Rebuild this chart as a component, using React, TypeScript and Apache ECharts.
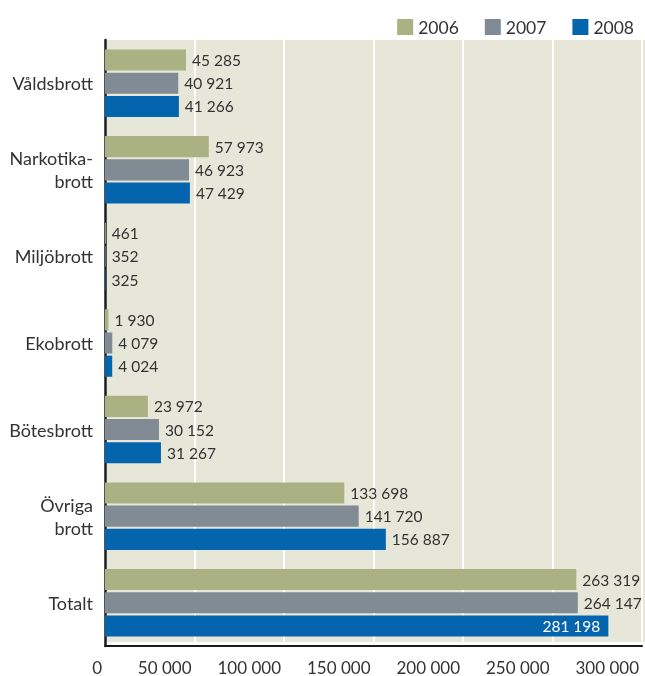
import React, { useEffect, useRef } from "react";
import * as echarts from "echarts";

const categories = ["Våldsbrott", "Narkotika-\nbrott", "Miljöbrott", "Ekobrott", "Bötesbrott", "Övriga\nbrott", "Totalt"];
const years = ["2006", "2007", "2008"];
const v2006 = [45285, 57973, 461, 1930, 23972, 133698, 263319];
const v2007 = [40921, 46923, 352, 4079, 30152, 141720, 264147];
const v2008 = [41266, 47429, 325, 4024, 31267, 156887, 281198];
const colors = ["#aab283", "#808b94", "#0464ad"];

const FONT = "Lato, 'Noto Sans', sans-serif";
const fmt = (v: number) => String(v).replace(/\B(?=(\d{3})+(?!\d))/g, " ");

export default function App() {
  const ref = useRef<HTMLDivElement>(null);
  useEffect(() => {
    if (!ref.current) return;
    const chart = echarts.init(ref.current, null, { renderer: "svg" });
    const seriesData = [v2006, v2007, v2008];
    const series = years.map((y, si) => ({
      name: y,
      type: "bar",
      barGap: "10%",
      barCategoryGap: "22%",
      itemStyle: { color: colors[si] },
      label: {
        show: true,
        position: "right",
        distance: 6,
        color: "#333",
        fontFamily: FONT,
        fontSize: 15.5,
        formatter: (p: any) => fmt(p.value),
      },
      data: seriesData[si].map((v, i) =>
        si === 2 && i === categories.length - 1
          ? { value: v, label: { position: "insideRight", color: "#fff", distance: 8 } }
          : v
      ),
    }));
    chart.setOption({
      animation: false,
      textStyle: { fontFamily: FONT },
      legend: {
        data: years,
        right: 6,
        top: 13,
        itemWidth: 16,
        itemHeight: 16,
        itemGap: 26,
        icon: "rect",
        textStyle: { fontFamily: FONT, fontSize: 17.5, color: "#333" },
      },
      graphic: [
        {
          type: "rect",
          z: -10,
          shape: { x: 107, y: 40, width: 538, height: 602 },
          style: { fill: "#e6e7d9" },
          silent: true,
        },
      ],
      grid: { left: 105, right: 0, top: 40, bottom: 30, containLabel: false },
      xAxis: {
        type: "value",
        min: 0,
        max: 300000,
        interval: 50000,
        axisLine: { show: true, lineStyle: { color: "#1a1a1a", width: 2 } },
        axisTick: { show: false },
        splitLine: { show: true, lineStyle: { color: "#ffffff", width: 2 } },
        axisLabel: {
          align: "right",
          margin: 13,
          lineHeight: 16,
          padding: [0, 3, 0, 0],
          fontFamily: FONT,
          fontSize: 17,
          color: "#333",
          formatter: (v: number) => fmt(v),
        },
      },
      yAxis: {
        type: "category",
        inverse: true,
        data: categories,
        axisLine: { show: true, lineStyle: { color: "#1a1a1a", width: 2.5 } },
        axisTick: { show: false },
        axisLabel: {
          margin: 12,
          fontFamily: FONT,
          fontSize: 18,
          lineHeight: 23,
          color: "#333",
          align: "right",
        },
      },
      series,
    });
    return () => chart.dispose();
  }, []);
  return <div ref={ref} style={{ position: "fixed", left: 0, top: 0, width: 645, height: 676 }} />;
}
